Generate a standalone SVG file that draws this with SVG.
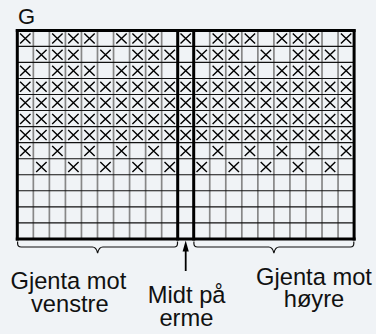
<svg xmlns="http://www.w3.org/2000/svg" xmlns:xlink="http://www.w3.org/1999/xlink" width="376" height="334" viewBox="0 0 376 334">
<style>
.t{font-family:"Liberation Sans",Arial,Helvetica,sans-serif;fill:#111;}
.lab{font-size:23.7px;text-anchor:middle;}
.gv{stroke:#878787;stroke-width:1.7;fill:none;}
.gh{stroke:#111;stroke-width:1.1;fill:none;}
.bd{stroke:#000;stroke-width:3;fill:none;}
.xm{stroke:#000;stroke-width:1.4;fill:none;}
.br{stroke:#111;stroke-width:1.2;fill:none;}
</style>
<defs>
<path id="x" class="xm" d="M-5.2,-5L5.2,5M5.2,-5L-5.2,5"/>
<g id="rowA">
<use href="#x" x="25.3"/><use href="#x" x="57.4"/><use href="#x" x="73.4"/><use href="#x" x="89.5"/><use href="#x" x="121.5"/><use href="#x" x="137.6"/><use href="#x" x="153.6"/><use href="#x" x="185.7"/><use href="#x" x="217.8"/><use href="#x" x="233.8"/><use href="#x" x="249.9"/><use href="#x" x="281.9"/><use href="#x" x="298"/><use href="#x" x="314"/><use href="#x" x="346.1"/>
</g>
<g id="rowB">
<use href="#x" x="41.4"/><use href="#x" x="57.4"/><use href="#x" x="73.4"/><use href="#x" x="105.5"/><use href="#x" x="137.6"/><use href="#x" x="153.6"/><use href="#x" x="169.7"/><use href="#x" x="201.7"/><use href="#x" x="217.8"/><use href="#x" x="233.8"/><use href="#x" x="265.9"/><use href="#x" x="298"/><use href="#x" x="314"/><use href="#x" x="330.1"/>
</g>
<g id="rowE">
<use href="#x" x="25.3"/><use href="#x" x="57.4"/><use href="#x" x="89.5"/><use href="#x" x="121.5"/><use href="#x" x="153.6"/><use href="#x" x="185.7"/><use href="#x" x="217.8"/><use href="#x" x="249.9"/><use href="#x" x="281.9"/><use href="#x" x="314"/><use href="#x" x="346.1"/>
</g>
<g id="rowO">
<use href="#x" x="41.4"/><use href="#x" x="73.4"/><use href="#x" x="105.5"/><use href="#x" x="137.6"/><use href="#x" x="169.7"/><use href="#x" x="201.7"/><use href="#x" x="233.8"/><use href="#x" x="265.9"/><use href="#x" x="298"/><use href="#x" x="330.1"/>
</g>
<g id="rowF">
<use href="#rowE"/><use href="#rowO"/>
</g>
</defs>
<rect width="376" height="334" fill="#f0f3f6"/>
<g id="title"><text class="t" x="18" y="24" font-size="22">G</text></g>
<g id="grid">
<path class="gv" d="M33.34,30.3V238.9M49.38,30.3V238.9M65.42,30.3V238.9M81.46,30.3V238.9M97.5,30.3V238.9M113.54,30.3V238.9M129.58,30.3V238.9M145.62,30.3V238.9M161.66,30.3V238.9M209.74,30.3V238.9M225.78,30.3V238.9M241.82,30.3V238.9M257.86,30.3V238.9M273.9,30.3V238.9M289.94,30.3V238.9M305.98,30.3V238.9M322.02,30.3V238.9M338.06,30.3V238.9"/>
<path class="gh" d="M17.3,46.35H354.1M17.3,62.4H354.1M17.3,78.45H354.1M17.3,94.5H354.1M17.3,110.55H354.1M17.3,126.6H354.1M17.3,142.65H354.1M17.3,158.7H354.1M17.3,174.75H354.1M17.3,190.8H354.1M17.3,206.85H354.1M17.3,222.9H354.1"/>
<path class="bd" d="M15.8,30.5H355.6" stroke-width="2.6"/>
<path class="bd" d="M15.8,238.9H355.6"/>
<path class="bd" d="M17.3,29.2V240.4M177.7,29.2V240.4M193.7,29.2V240.4M354.1,29.2V240.4"/>
</g>
<g id="marks">
<use href="#rowA" y="38.6"/>
<use href="#rowB" y="54.7"/>
<use href="#rowA" y="70.7"/>
<use href="#rowF" y="86.8"/>
<use href="#rowF" y="102.8"/>
<use href="#rowF" y="118.9"/>
<use href="#rowF" y="134.9"/>
<use href="#rowE" y="151"/>
<use href="#rowO" y="167"/>
</g>
<g id="connectors">
<path class="br" d="M17.6,241.5V243.5Q17.6,247 21.2,247H92.4Q96.2,247 97.6,253Q99,247 102.8,247H174.2Q177.5,247 177.5,243.5V241.5"/>
<path class="br" d="M193.9,241.5V243.5Q193.9,247 197.5,247H268.7Q272.5,247 273.9,253Q275.3,247 279.1,247H350.5Q353.8,247 353.8,243.5V241.5"/>
<path d="M185.7,271V250" stroke="#000" stroke-width="1.8" fill="none"/>
<path d="M185.7,240.6L182.6,251.5H188.8Z" fill="#000"/>
</g>
<g id="labels">
<text class="t lab" x="68.4" y="289">Gjenta mot</text>
<text class="t lab" x="69.8" y="311.6">venstre</text>
<text class="t lab" x="186.7" y="302.7">Midt på</text>
<text class="t lab" x="186.4" y="326.3">erme</text>
<text class="t lab" x="314" y="285.2">Gjenta mot</text>
<text class="t lab" x="314" y="307.4">høyre</text>
</g>
</svg>
